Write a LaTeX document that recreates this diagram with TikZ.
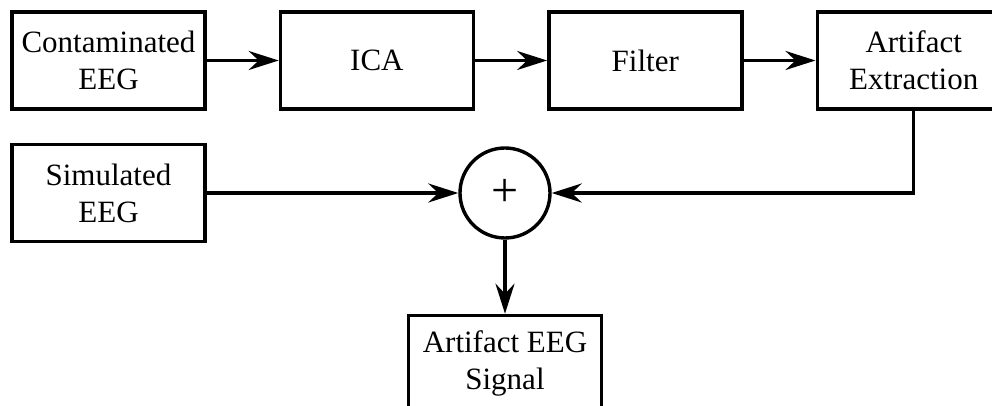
\documentclass[tikz,border=0pt]{standalone}
\usepackage{fontspec}
\setmainfont{Liberation Serif}
\usetikzlibrary{arrows.meta,positioning}

\begin{document}
\begin{tikzpicture}[
  x=0.5pt, y=-0.5pt,
  box/.style={draw, line width=1.7pt, align=center, inner sep=0pt,
    minimum width=96.5pt, minimum height=48.5pt,
    font=\fontsize{15.5}{18.5}\selectfont},
  sumnode/.style={draw, circle, line width=1.7pt, minimum size=45pt,
    inner sep=0pt, font=\fontsize{24}{26}\selectfont},
  arr/.style={-{Stealth[length=15pt, width=9.5pt, inset=5pt]}, line width=1.7pt},
]
\clip (0,0) rectangle (992,406);
\node[box] (contam) at (108.5,60.5) {Contaminated\\EEG};
\node[box, right=36pt of contam] (ica) {ICA};
\node[box, right=36pt of ica] (filt) {Filter};
\node[box, right=36pt of filt] (ext) {Artifact\\Extraction};
\node[box] (sim) at (108.5,193) {Simulated\\EEG};
\node[sumnode] (sum) at (505,193) {+};
\node[box, below=37pt of sum] (out) {Artifact EEG\\Signal};
\draw[arr] (contam) -- (ica);
\draw[arr] (ica) -- (filt);
\draw[arr] (filt) -- (ext);
\draw[arr] (sim) -- (sum);
\draw[arr] (ext.south) |- (sum.east);
\draw[arr] (sum) -- (out);
\end{tikzpicture}
\end{document}
